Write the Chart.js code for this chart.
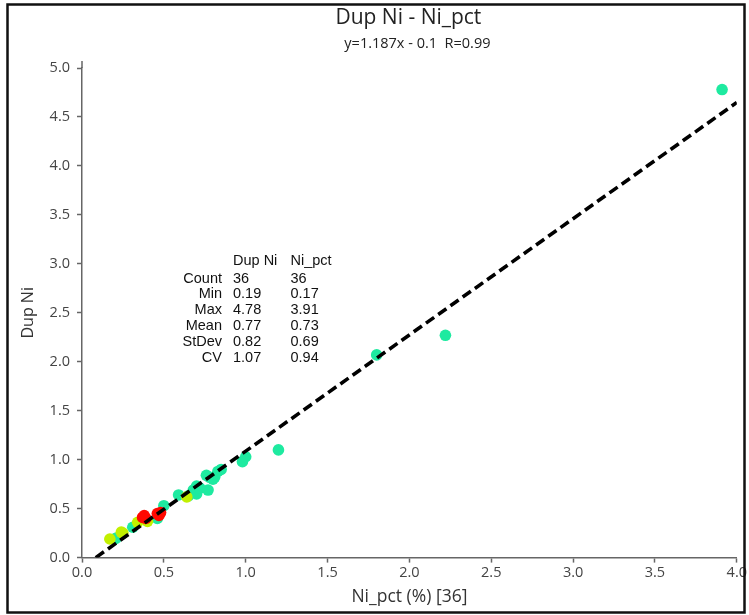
<!DOCTYPE html>
<html>
<head>
<meta charset="utf-8">
<script src="https://cdn.jsdelivr.net/npm/chart.js@4.4.0/dist/chart.umd.min.js"></script>
<style>
html,body{margin:0;padding:0;background:#fff;}
#wrap{position:relative;width:749px;height:615px;}
</style>
</head>
<body>
<div id="wrap"><canvas id="c" width="749" height="615"></canvas></div>
<script>
// ---- data ----
const cyanX = [0.20, 0.21, 0.31, 0.46, 0.50, 0.59, 0.65, 0.68, 0.70, 0.70, 0.72, 0.76, 0.77, 0.78, 0.80, 0.81, 0.83, 0.85, 0.98, 1.00, 1.20, 1.80, 2.22, 3.91];
const cyanY = [0.19, 0.20, 0.31, 0.40, 0.53, 0.64, 0.63, 0.69, 0.73, 0.65, 0.71, 0.84, 0.69, 0.82, 0.80, 0.82, 0.88, 0.90, 0.98, 1.03, 1.10, 2.07, 2.27, 4.78];
const limeX = [0.17, 0.24, 0.25, 0.34, 0.40, 0.64];
const limeY = [0.19, 0.26, 0.25, 0.36, 0.37, 0.62];
const redX = [0.37, 0.38, 0.39, 0.46, 0.48, 0.47];
const redY = [0.41, 0.43, 0.40, 0.45, 0.46, 0.43];
const regX = [0.084, 4.0];
const regY = [0.0, 4.648];
const xTicks = [0.0, 0.5, 1.0, 1.5, 2.0, 2.5, 3.0, 3.5, 4.0];
const yTicks = [0.0, 0.5, 1.0, 1.5, 2.0, 2.5, 3.0, 3.5, 4.0, 4.5, 5.0];
const titleText = 'Dup Ni - Ni_pct';
const subtitleText = 'y=1.187x - 0.1  R=0.99';
const xTitle = 'Ni_pct (%) [36]';
const yTitle = 'Dup Ni';
const statHeaders = ['Dup Ni', 'Ni_pct'];
const statLabels = ['Count', 'Min', 'Max', 'Mean', 'StDev', 'CV'];
const statDup = ['36', '0.19', '4.78', '0.77', '0.82', '1.07'];
const statNi = ['36', '0.17', '3.91', '0.73', '0.69', '0.94'];

const toPts = (xs, ys) => xs.map((x, i) => ({x: x, y: ys[i]}));

const decorPlugin = {
  id: 'decor',
  afterDraw(chart) {
    const ctx = chart.ctx;
    const area = chart.chartArea;
    const cx = (area.left + area.right) / 2;
    ctx.save();
    // frame
    ctx.strokeStyle = '#111';
    ctx.lineWidth = 2.5;
    ctx.strokeRect(7.5, 4.5, 737, 608);
    // small extension of the y axis line above the top tick
    ctx.strokeStyle = '#666';
    ctx.lineWidth = 1.5;
    ctx.beginPath();
    ctx.moveTo(area.left, area.top);
    ctx.lineTo(area.left, area.top - 7);
    ctx.stroke();
    // titles
    ctx.fillStyle = '#222';
    ctx.textAlign = 'center';
    ctx.textBaseline = 'middle';
    ctx.font = '21px "Open Sans"';
    ctx.fillText(titleText, cx - 1, 18);
    ctx.font = '14.5px "Open Sans"';
    ctx.fillText(subtitleText, cx + 8, 44);
    // stats table
    ctx.fillStyle = '#111';
    ctx.font = '14.5px "Liberation Sans"';
    ctx.textAlign = 'left';
    ctx.fillText(statHeaders[0], 233, 261);
    ctx.fillText(statHeaders[1], 290.5, 261);
    for (let i = 0; i < statLabels.length; i++) {
      const y = 278.5 + i * 15.85;
      ctx.textAlign = 'right';
      ctx.fillText(statLabels[i], 222, y);
      ctx.textAlign = 'left';
      ctx.fillText(statDup[i], 233, y);
      ctx.fillText(statNi[i], 290.5, y);
    }
    ctx.restore();
  }
};

const tickFont = {family: '"Open Sans"', size: 14.5};
const axisColor = '#666';

new Chart(document.getElementById('c'), {
  type: 'scatter',
  data: {
    datasets: [
      {
        type: 'line',
        label: 'fit',
        data: toPts(regX, regY),
        borderColor: '#000',
        borderWidth: 3.6,
        borderDash: [10, 5],
        pointRadius: 0,
        fill: false,
        order: 0
      },
      {
        label: 'cyan',
        data: toPts(cyanX, cyanY),
        backgroundColor: '#1EEAA0',
        borderWidth: 0,
        pointRadius: 5.8,
        order: 3
      },
      {
        label: 'lime',
        data: toPts(limeX, limeY),
        backgroundColor: '#C2F000',
        borderWidth: 0,
        pointRadius: 5.8,
        order: 2
      },
      {
        label: 'red',
        data: toPts(redX, redY),
        backgroundColor: '#FF0800',
        borderWidth: 0,
        pointRadius: 5.8,
        order: 1
      }
    ]
  },
  options: {
    responsive: false,
    animation: false,
    devicePixelRatio: 1,
    layout: {padding: {top: 68, right: 12, left: 0, bottom: 0}},
    plugins: {
      legend: {display: false},
      tooltip: {enabled: false},
      title: {display: false}
    },
    scales: {
      x: {
        type: 'linear',
        min: 0,
        max: 4,
        afterBuildTicks: (s) => { s.ticks = xTicks.map(v => ({value: v})); },
        ticks: {
          callback: (v) => Number(v).toFixed(1),
          font: tickFont,
          color: '#444',
          padding: 2,
          maxRotation: 0
        },
        grid: {display: true, drawOnChartArea: false, drawTicks: true, tickLength: 5, tickColor: axisColor, tickWidth: 1.5},
        border: {display: true, color: axisColor, width: 1.5},
        title: {display: true, text: xTitle, font: {family: '"Open Sans"', size: 17.5}, color: '#333', padding: {top: 0, bottom: 7}},
        afterFit: (s) => { s.height = 57.4; }
      },
      y: {
        type: 'linear',
        min: 0,
        max: 5,
        afterBuildTicks: (s) => { s.ticks = yTicks.map(v => ({value: v})); },
        ticks: {
          callback: (v) => Number(v).toFixed(1),
          font: tickFont,
          color: '#444',
          padding: 7
        },
        grid: {display: true, drawOnChartArea: false, drawTicks: true, tickLength: 5, tickColor: axisColor, tickWidth: 1.5},
        border: {display: true, color: axisColor, width: 1.5},
        title: {display: true, text: yTitle, font: {family: '"Open Sans"', size: 16}, color: '#333', padding: {top: 19, bottom: 0}},
        afterFit: (s) => { s.width = 82; }
      }
    }
  },
  plugins: [decorPlugin]
});
</script>
</body>
</html>
